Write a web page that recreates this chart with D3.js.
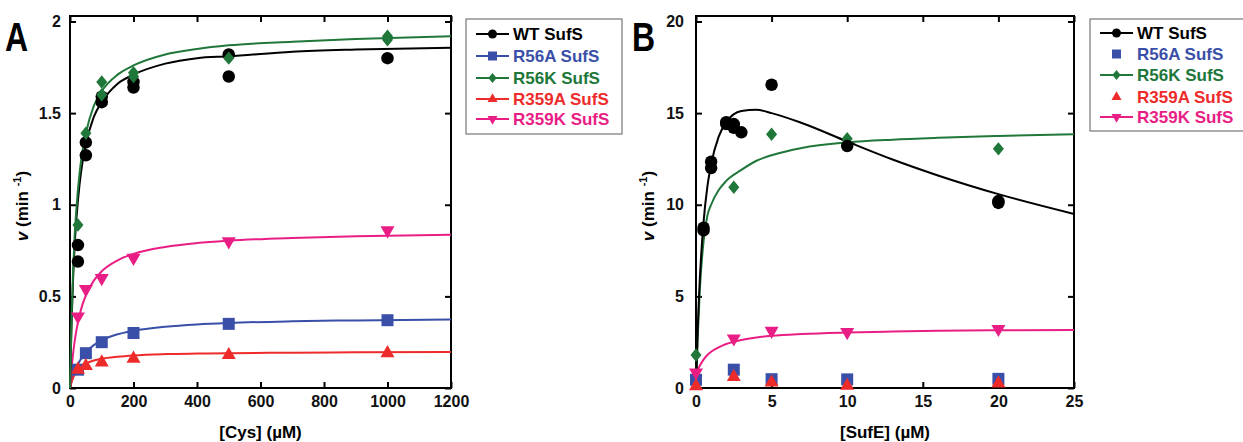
<!DOCTYPE html>
<html>
<head>
<meta charset="utf-8">
<script src="https://cdn.jsdelivr.net/npm/d3@7"></script>
<style>
  body { margin: 0; background: #fff; }
  text { font-family: "Liberation Sans", Arial, sans-serif; font-weight: bold; }
</style>
</head>
<body>
<div id="chart"></div>
<script>
// Panel A: v vs [Cys] (uM)
const cysTicks = [0, 200, 400, 600, 800, 1000, 1200];
const cysVTicks = [0, 0.5, 1, 1.5, 2];
const cysWT = [[25, 0.69], [25, 0.78], [50, 1.27], [50, 1.34], [100, 1.56], [100, 1.59], [200, 1.64], [200, 1.67], [500, 1.70], [500, 1.82], [1000, 1.80]];
const cysR56A = [[25, 0.10], [50, 0.19], [100, 0.25], [200, 0.30], [500, 0.35], [1000, 0.37]];
const cysR56K = [[25, 0.89], [50, 1.39], [100, 1.60], [100, 1.67], [200, 1.70], [200, 1.72], [500, 1.80], [1000, 1.90], [1000, 1.92]];
const cysR359A = [[25, 0.10], [50, 0.12], [100, 0.14], [200, 0.16], [500, 0.18], [1000, 0.19]];
const cysR359K = [[25, 0.39], [50, 0.54], [100, 0.60], [200, 0.71], [500, 0.80], [1000, 0.86]];
// fitted curves
const cysFitX = [0, 5, 10, 15, 20, 30, 40, 50, 75, 100, 150, 200, 300, 400, 500, 700, 900, 1200];
const cysFitWT = [0, 0.36, 0.61, 0.79, 0.92, 1.11, 1.24, 1.33, 1.48, 1.56, 1.66, 1.71, 1.77, 1.80, 1.81, 1.835, 1.847, 1.857];
const cysFitR56A = [0, 0.036, 0.065, 0.09, 0.111, 0.146, 0.173, 0.195, 0.234, 0.26, 0.293, 0.312, 0.334, 0.347, 0.355, 0.364, 0.369, 0.374];
const cysFitR56K = [0, 0.39, 0.65, 0.84, 0.975, 1.17, 1.30, 1.39, 1.54, 1.62, 1.71, 1.76, 1.82, 1.85, 1.87, 1.89, 1.905, 1.92];
const cysFitR359A = [0, 0.033, 0.057, 0.075, 0.089, 0.109, 0.123, 0.133, 0.15, 0.16, 0.171, 0.178, 0.185, 0.188, 0.19, 0.193, 0.195, 0.196];
const cysFitR359K = [0, 0.108, 0.191, 0.258, 0.313, 0.397, 0.459, 0.506, 0.586, 0.637, 0.697, 0.732, 0.770, 0.791, 0.804, 0.819, 0.828, 0.836];

// Panel B: v vs [SufE] (uM)
const sufeTicks = [0, 5, 10, 15, 20, 25];
const sufeVTicks = [0, 5, 10, 15, 20];
const sufeWT = [[0.5, 8.6], [0.5, 8.75], [1, 12.0], [1, 12.35], [2, 14.5], [2, 14.4], [2.5, 14.4], [2.5, 14.2], [3, 13.95], [5, 16.55], [10, 13.2], [20, 10.1], [20, 10.2]];
const sufeR56A = [[0, 0.45], [2.5, 1.0], [5, 0.48], [10, 0.47], [20, 0.5]];
const sufeR56K = [[0, 1.8], [2.5, 10.95], [5, 13.85], [10, 13.6], [20, 13.05]];
const sufeR359A = [[0, 0.1], [2.5, 0.6], [5, 0.3], [10, 0.12], [20, 0.25]];
const sufeR359K = [[0, 0.85], [2.5, 2.7], [5, 3.12], [10, 3.05], [20, 3.22]];
const sufeFitX = [0, 0.1, 0.25, 0.5, 0.75, 1, 1.5, 2, 3, 4, 5, 7, 10, 13, 16, 20, 25];
const sufeFitWT = [0, 2.87, 5.89, 9.05, 10.97, 12.2, 13.72, 14.5, 15.11, 15.18, 15.0, 14.46, 13.45, 12.47, 11.6, 10.58, 9.5];
const sufeFitR56K = [0, 2.5, 5.3, 8.0, 9.4, 10.0, 10.8, 11.3, 11.9, 12.4, 12.7, 13.1, 13.4, 13.55, 13.65, 13.75, 13.85];
const sufeFitR359K = [0.8, 0.98, 1.22, 1.55, 1.8, 1.98, 2.22, 2.4, 2.62, 2.76, 2.85, 2.95, 3.03, 3.08, 3.12, 3.15, 3.17];

const names = ["WT SufS", "R56A SufS", "R56K SufS", "R359A SufS", "R359K SufS"];
const colors = ["#000000", "#3a4fa8", "#20773a", "#ee2b2b", "#e91e85"];
const shapes = ["circle", "square", "diamond", "triangle", "triangleDown"];
const plotSize = {circle: 12.5, square: 12, diamond: 12, triangle: 14, triangleDown: 14};
const keySize = {circle: 9, square: 9, diamond: 9, triangle: 10, triangleDown: 10};

const W = 1243, H = 442;
const svg = d3.select("#chart").append("svg")
  .attr("width", W).attr("height", H)
  .style("background", "#fff");

// marker path generator
function marker(shape, s) {
  if (shape === "circle") return d3.symbol(d3.symbolCircle, Math.PI * s * s / 4)();
  if (shape === "square") return d3.symbol(d3.symbolSquare, s * s)();
  if (shape === "diamond") {
    const w = s * 0.46, h = s * 0.56;
    return `M0,${-h}L${w},0L0,${h}L${-w},0Z`;
  }
  const a = Math.sqrt(3) / 4 * s * s;
  return d3.symbol(d3.symbolTriangle, a)();
}

function drawPanel(cfg) {
  const x = d3.scaleLinear().domain(cfg.xDomain).range([cfg.left, cfg.right]);
  const y = d3.scaleLinear().domain(cfg.yDomain).range([388, 16]);
  const g = svg.append("g");

  // frame
  g.append("rect")
    .attr("x", cfg.left).attr("y", 16)
    .attr("width", cfg.right - cfg.left).attr("height", 372)
    .attr("fill", "none").attr("stroke", "#000").attr("stroke-width", 2);

  // axes, ticks inward
  const fmt = d3.format("~g");
  g.append("g").attr("transform", "translate(0,388)")
    .call(d3.axisBottom(x).tickValues(cfg.xTicks).tickSize(-6).tickSizeOuter(0).tickPadding(8).tickFormat(fmt))
    .call(a => a.select(".domain").remove());
  g.append("g").attr("transform", "translate(0,16)")
    .call(d3.axisTop(x).tickValues(cfg.xTicks).tickSize(-6).tickSizeOuter(0).tickFormat(""))
    .call(a => a.select(".domain").remove());
  g.append("g").attr("transform", `translate(${cfg.left},0)`)
    .call(d3.axisLeft(y).tickValues(cfg.yTicks).tickSize(-6).tickSizeOuter(0).tickPadding(cfg.yPad).tickFormat(fmt))
    .call(a => a.select(".domain").remove());
  g.append("g").attr("transform", `translate(${cfg.right},0)`)
    .call(d3.axisRight(y).tickValues(cfg.yTicks).tickSize(-6).tickSizeOuter(0).tickFormat(""))
    .call(a => a.select(".domain").remove());
  g.selectAll(".tick line").attr("stroke", "#000").attr("stroke-width", 2);
  g.selectAll(".tick text")
    .attr("font-family", "Liberation Sans, Arial, sans-serif")
    .attr("font-weight", "bold").attr("font-size", 16).attr("fill", "#111");

  // fitted curves
  const line = d3.line().x(d => x(d[0])).y(d => y(d[1])).curve(d3.curveMonotoneX);
  cfg.fits.forEach(f => {
    g.append("path")
      .datum(cfg.fitX.map((v, i) => [v, f.values[i]]))
      .attr("d", line)
      .attr("fill", "none").attr("stroke", colors[f.k]).attr("stroke-width", 2);
  });

  // data points
  cfg.order.forEach(k => {
    g.selectAll(null)
      .data(cfg.series[k])
      .join("path")
      .attr("d", marker(shapes[k], plotSize[shapes[k]]))
      .attr("transform", d => `translate(${x(d[0])},${y(d[1])})${shapes[k] === "triangleDown" ? " rotate(180)" : ""}`)
      .attr("fill", colors[k]);
  });

  // axis titles
  g.append("text")
    .attr("x", (cfg.left + cfg.right) / 2).attr("y", 438)
    .attr("text-anchor", "middle").attr("font-size", 17)
    .text(cfg.xTitle);
  const yt = g.append("text")
    .attr("transform", `translate(${cfg.yTitleX},206) rotate(-90)`)
    .attr("text-anchor", "middle").attr("font-size", 17);
  yt.append("tspan").attr("font-style", "italic").text("v");
  yt.append("tspan").text(" (min ");
  yt.append("tspan").attr("font-size", 11).attr("dy", -7).text("-1");
  yt.append("tspan").attr("dy", 7).text(")");

  // panel letter (condensed look)
  g.append("text")
    .attr("transform", `translate(${cfg.letterX},51) scale(0.8,1)`)
    .attr("font-family", "DejaVu Sans, sans-serif")
    .attr("font-size", 40).attr("font-weight", "bold")
    .text(cfg.letter);

  // legend
  const lg = svg.append("g");
  lg.append("rect")
    .attr("x", cfg.legend.x).attr("y", 19)
    .attr("width", cfg.legend.w).attr("height", cfg.legend.h)
    .attr("fill", "#fff").attr("stroke", "#777").attr("stroke-width", 1.2);
  names.forEach((n, k) => {
    const cy = cfg.legend.rows[k];
    const x0 = cfg.legend.x + 10, x1 = x0 + 33, cx = (x0 + x1) / 2;
    if (cfg.legend.lines[k]) {
      lg.append("line").attr("x1", x0).attr("x2", x1).attr("y1", cy).attr("y2", cy)
        .attr("stroke", colors[k]).attr("stroke-width", 2);
    }
    lg.append("path")
      .attr("d", marker(shapes[k], keySize[shapes[k]]))
      .attr("transform", `translate(${cx},${cy})${shapes[k] === "triangleDown" ? " rotate(180)" : ""}`)
      .attr("fill", colors[k]);
    lg.append("text")
      .attr("x", x1 + 4).attr("y", cy + 6)
      .attr("font-size", 17).attr("fill", colors[k])
      .text(n);
  });
}

drawPanel({
  letter: "A", letterX: 5,
  left: 70, right: 451,
  xDomain: [0, 1200], yDomain: [0, 2.03],
  xTicks: cysTicks, yTicks: cysVTicks, yPad: 9,
  xTitle: "[Cys] (µM)", yTitleX: 28,
  series: [cysWT, cysR56A, cysR56K, cysR359A, cysR359K],
  order: [1, 3, 4, 0, 2],
  fitX: cysFitX,
  fits: [
    {k: 1, values: cysFitR56A},
    {k: 3, values: cysFitR359A},
    {k: 4, values: cysFitR359K},
    {k: 0, values: cysFitWT},
    {k: 2, values: cysFitR56K}
  ],
  legend: {x: 466, w: 156, h: 115, rows: [34, 56, 78, 99, 119], lines: [true, true, true, true, true]}
});

drawPanel({
  letter: "B", letterX: 632,
  left: 696, right: 1074,
  xDomain: [0, 25], yDomain: [0, 20.3],
  xTicks: sufeTicks, yTicks: sufeVTicks, yPad: 12,
  xTitle: "[SufE] (µM)", yTitleX: 654,
  series: [sufeWT, sufeR56A, sufeR56K, sufeR359A, sufeR359K],
  order: [1, 3, 4, 2, 0],
  fitX: sufeFitX,
  fits: [
    {k: 4, values: sufeFitR359K},
    {k: 2, values: sufeFitR56K},
    {k: 0, values: sufeFitWT}
  ],
  legend: {x: 1090, w: 160, h: 112, rows: [33, 54, 75, 97, 117], lines: [true, false, true, false, true]}
});
</script>
</body>
</html>
